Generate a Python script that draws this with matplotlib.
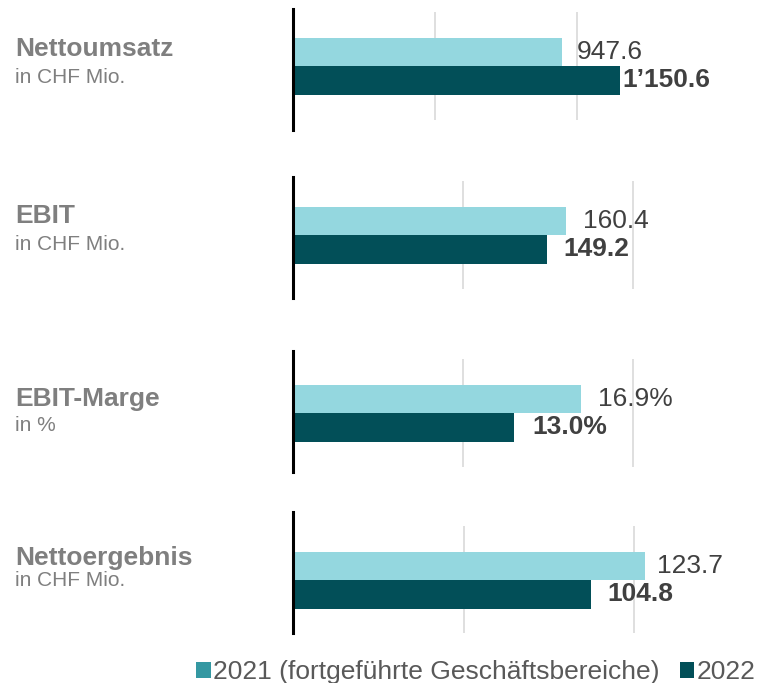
import matplotlib
matplotlib.use("Agg")
import matplotlib.pyplot as plt
from matplotlib.patches import Patch
import numpy as np

plt.rcParams['font.family'] = ['Liberation Sans', 'DejaVu Sans']

# ---- data ----
categories = ["Nettoumsatz", "EBIT", "EBIT-Marge", "Nettoergebnis"]
units = ["in CHF Mio.", "in CHF Mio.", "in %", "in CHF Mio."]
values_2021 = [947.6, 160.4, 16.9, 123.7]
values_2022 = [1150.6, 149.2, 13.0, 104.8]
labels_2021 = ["947.6", "160.4", "16.9%", "123.7"]
labels_2022 = ["1\u2019150.6", "149.2", "13.0%", "104.8"]
series_names = ["2021 (fortgeführte Geschäftsbereiche)", "2022"]

# ---- style / layout ----
tick_steps = [500, 100, 10, 60]
x_max = [1468, 245, 24.5, 146.6]
W, H = 759, 683
ax_left_px, ax_right_px = 293, 710
ax_top_px = [9, 177, 351, 512]
ax_bot_px = [130, 298, 472, 633]
center_px = [66, 235, 413, 580]
bar_px = 28.5
title_base_px = [56, 223, 406, 565]
unit_base_px = [83, 250, 431, 586]
label_off_px = [[15, 3], [17, 16], [17, 18], [12, 16]]

c_light = "#94D7DF"
c_dark = "#024F58"
c_legend_light = "#3498A2"
c_title = "#7F7F7F"
c_value = "#404040"
fs = 19.0
fs_unit = 15.0

fig = plt.figure(figsize=(W / 100, H / 100), dpi=100)

for i in range(len(categories)):
    top, bot, c = ax_top_px[i], ax_bot_px[i], center_px[i]
    ax = fig.add_axes([ax_left_px / W, 1 - bot / H,
                       (ax_right_px - ax_left_px) / W, (bot - top) / H])
    ax.set_ylim(-(bot - c) / bar_px, (c - top) / bar_px)
    ax.set_xlim(0, x_max[i])
    ticks = np.arange(tick_steps[i], x_max[i], tick_steps[i])
    ax.vlines(ticks, -1.88, 1.9, color="#D9D9D9", lw=1.2, zorder=0)
    ax.barh([0.5, -0.5], [values_2021[i], values_2022[i]], height=1.0,
            color=[c_light, c_dark], zorder=2)
    for s in ["top", "right", "bottom"]:
        ax.spines[s].set_visible(False)
    ax.spines["left"].set_linewidth(2.2)
    ax.spines["left"].set_color("black")
    ax.spines["left"].set_zorder(3)
    ax.set_xticks([])
    ax.set_yticks([])
    ax.patch.set_alpha(0)
    ax.annotate(labels_2021[i], xy=(values_2021[i], 0.5),
                xytext=(label_off_px[i][0] * 0.72, 0), textcoords="offset points",
                va="center", ha="left", fontsize=fs, color=c_value,
                annotation_clip=False)
    ax.annotate(labels_2022[i], xy=(values_2022[i], -0.5),
                xytext=(label_off_px[i][1] * 0.72, 0), textcoords="offset points",
                va="center", ha="left", fontsize=fs, color=c_value,
                fontweight="bold", annotation_clip=False)
    fig.text(15 / W, 1 - title_base_px[i] / H, categories[i], fontsize=fs,
             fontweight="bold", color=c_title, va="baseline", ha="left")
    fig.text(15 / W, 1 - unit_base_px[i] / H, units[i], fontsize=fs_unit,
             color=c_title, va="baseline", ha="left")

handles = [Patch(facecolor=c_legend_light), Patch(facecolor=c_dark)]
leg = fig.legend(handles, series_names, loc="center",
                 bbox_to_anchor=(476 / W, 1 - 672 / H), ncol=2, frameon=False,
                 fontsize=fs, handlelength=0.55, handleheight=0.55,
                 handletextpad=0.1, columnspacing=0.75, borderpad=0,
                 borderaxespad=0)
for t in leg.get_texts():
    t.set_color("#595959")

fig.savefig("out.png", dpi=100)
